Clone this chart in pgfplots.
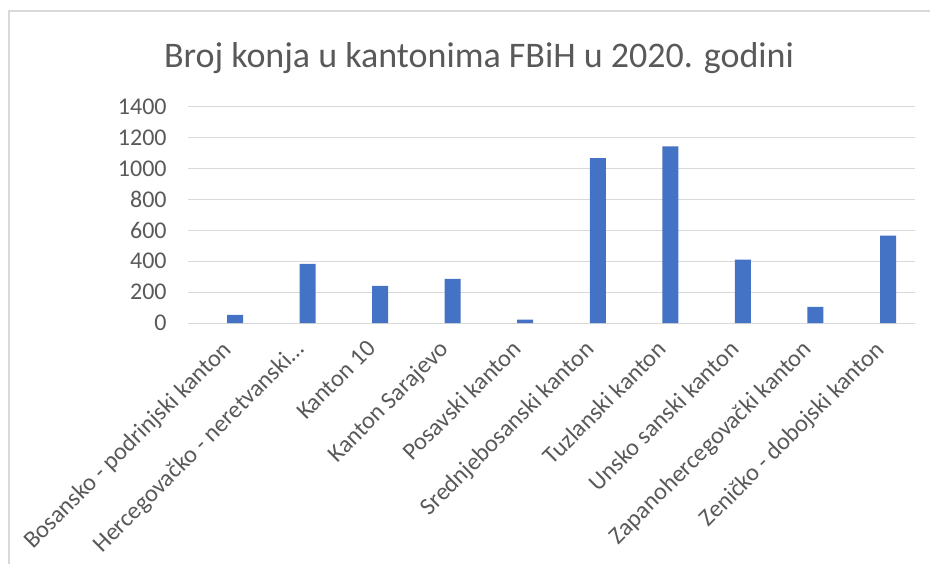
\documentclass[border=0pt]{standalone}
\usepackage{fontspec}
\setmainfont{Carlito}
\usepackage{pgfplots}
\pgfplotsset{compat=1.18}
\definecolor{barblue}{HTML}{4472C4}
\definecolor{gridgray}{HTML}{D9D9D9}
\definecolor{textgray}{HTML}{595959}
\begin{document}
\begin{tikzpicture}[x=0.75pt,y=0.75pt]
\useasboundingbox (0,0) rectangle (930,564);
\draw[gridgray, line width=1.5pt] (8.5,0) -- (8.5,553) -- (930,553);
\node[textgray, font=\fontsize{27}{32}\selectfont] at (479,506) {Broj konja u kantonima FBiH u 2020. godini};
\begin{axis}[
    at={(141pt,180.75pt)}, anchor=south west,
    scale only axis,
    width=545.25pt, height=162pt,
    ymin=0, ymax=1400,
    ytick={0,200,...,1400},
    xmin=-0.648, xmax=9.372,
    xtick={0,1,2,3,4,5,6,7,8,9},
    xticklabels={Bosansko - podrinjski kanton, {Hercegovačko - neretvanski\ldots}, Kanton 10, Kanton Sarajevo, Posavski kanton, Srednjebosanski kanton, Tuzlanski kanton, Unsko sanski kanton, Zapanohercegovački kanton, Zeničko - dobojski kanton},
    x tick label style={rotate=45, anchor=north east, font=\fontsize{18.2}{22}\selectfont, inner sep=0pt, xshift=-16pt, yshift=-0.6pt},
    y tick label style={font=\fontsize{18}{22}\selectfont, xshift=-12.5pt},
    tick label style={textgray},
    /pgf/number format/assume math mode=true,
    /pgf/number format/1000 sep={},
    ymajorgrids,
    grid style={gridgray, line width=0.75pt},
    axis line style={draw=none},
    major tick length=0pt,
    ybar, bar width=12pt,
]
\addplot[fill=barblue, draw=none] coordinates {
(0,52) (1,383) (2,240) (3,286) (4,22) (5,1069) (6,1145) (7,411) (8,104) (9,567)
};
\end{axis}
\end{tikzpicture}
\end{document}
